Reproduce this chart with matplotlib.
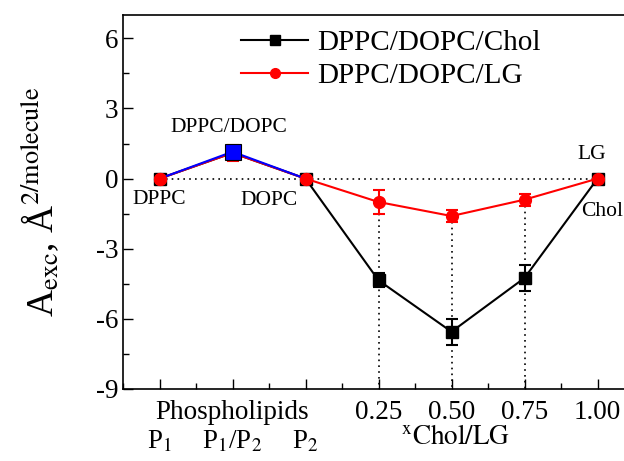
import numpy as np
import matplotlib
matplotlib.use("Agg")
import matplotlib.pyplot as plt
from matplotlib.ticker import MultipleLocator
from matplotlib.lines import Line2D

plt.rcParams['font.family'] = ['Liberation Serif', 'DejaVu Serif']
plt.rcParams['mathtext.fontset'] = 'stix'
plt.rcParams['axes.unicode_minus'] = False

# positions: P1, P1/P2, P2, 0.25, 0.50, 0.75, 1.00
x_pos = [0, 1, 2, 3, 4, 5, 6]
tick_labels = ["", "Phospholipids", "", "0.25", "0.50", "0.75", "1.00"]

chol = [0, 1.1, 0, -4.35, -6.55, -4.25, 0]
chol_err = [0, 0, 0, 0.3, 0.55, 0.55, 0]
lg = [0, 1.1, 0, -1.0, -1.6, -0.9, 0]
lg_err = [0, 0.35, 0, 0.5, 0.25, 0.25, 0]
pl_x = [0, 1, 2]
pl = [0, 1.15, 0]

fig = plt.figure(figsize=(6.24, 4.61), dpi=100)
ax = fig.add_axes([123 / 624, 72 / 461, 511 / 624, 374 / 461])

# guide lines
ax.plot([0, 6], [0, 0], ls=(0, (1, 2.5)), color='black', lw=1.2, zorder=1)
for i in [3, 4, 5]:
    ax.plot([x_pos[i], x_pos[i]], [lg[i], -9], ls=(0, (1, 2.5)), color='black', lw=1.2, zorder=1)

ax.errorbar(x_pos, chol, yerr=chol_err, color='black', marker='s', ms=8.5, lw=1.5,
            capsize=4.5, capthick=1.5, elinewidth=1.5, zorder=3)
ax.errorbar(x_pos, lg, yerr=lg_err, color='red', marker='o', ms=8.5, lw=1.5,
            capsize=4.5, capthick=1.5, elinewidth=1.5, zorder=4)
ax.plot(pl_x, pl, color='blue', lw=1.5, zorder=5)
ax.plot([0, 2], [0, 0], ls='none', marker='o', ms=8.5, color='red', zorder=6)
ax.plot([1], [pl[1]], ls='none', marker='s', ms=11, mfc='blue', mec='black', mew=0.8, zorder=7)

ax.set_xlim(-0.5, 6.5)
ax.set_ylim(-9, 7)
ax.set_xticks(x_pos)
ax.set_xticklabels(tick_labels)
ax.xaxis.set_minor_locator(MultipleLocator(0.5))
ax.set_yticks([-9, -6, -3, 0, 3, 6])
ax.yaxis.set_minor_locator(MultipleLocator(1.5))
ax.tick_params(which='both', direction='in', labelsize=19.5, width=1)
ax.tick_params(which='major', length=7)
ax.tick_params(which='minor', length=4)
ax.tick_params(axis='x', pad=8)
for s in ax.spines.values():
    s.set_linewidth(1.2)

ax.set_ylabel(r'A$_{\mathrm{exc}}$, Å$^{\mathrm{2/molecule}}$', fontsize=27, labelpad=24)

# second row of x labels
tr = ax.get_xaxis_transform()
ax.text(0, -0.14, r'P$_1$', transform=tr, ha='center', va='center', fontsize=19.5, clip_on=False)
ax.text(1, -0.14, r'P$_1$/P$_2$', transform=tr, ha='center', va='center', fontsize=19.5, clip_on=False)
ax.text(2, -0.14, r'P$_2$', transform=tr, ha='center', va='center', fontsize=19.5, clip_on=False)
ax.text(4.05, -0.13, r'${}^{\mathrm{x}}\mathrm{Chol/LG}$', transform=tr, ha='center', va='center',
        fontsize=19.5, clip_on=False)

# point annotations
ax.text(0, -0.9, 'DPPC', ha='center', va='center', fontsize=15.5)
ax.text(0.95, 2.2, 'DPPC/DOPC', ha='center', va='center', fontsize=15.5)
ax.text(1.5, -0.95, 'DOPC', ha='center', va='center', fontsize=15.5)
ax.text(5.92, 1.05, 'LG', ha='center', va='center', fontsize=15.5)
ax.text(5.77, -1.4, 'Chol', ha='left', va='center', fontsize=15.5, clip_on=False)

handles = [Line2D([], [], color='black', marker='s', ms=7, lw=1.5),
           Line2D([], [], color='red', marker='o', ms=7, lw=1.5)]
ax.legend(handles, ['DPPC/DOPC/Chol', 'DPPC/DOPC/LG'], loc='upper left',
          bbox_to_anchor=(0.18, 1.03), frameon=False, fontsize=21,
          handlelength=2.3, labelspacing=0.22, handletextpad=0.3)

fig.savefig('out.png', dpi=100)
